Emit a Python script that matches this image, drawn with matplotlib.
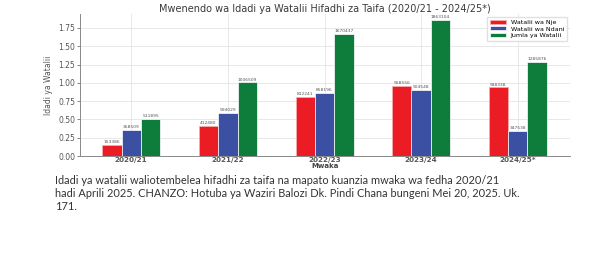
import numpy as np
import matplotlib
matplotlib.use('Agg')
import matplotlib.pyplot as plt

# Data
years = ['2020/21', '2021/22', '2022/23', '2023/24', '2024/25*']
foreign = [153386, 412480, 812241, 958556, 938338]
domestic = [358509, 594029, 858196, 904548, 347538]
total = [511895, 1006509, 1670437, 1863104, 1285876]

series = [
    ('Watalii wa Nje', foreign, '#ec1c24'),
    ('Watalii wa Ndani', domestic, '#3b4fa3'),
    ('Jumla ya Watalii', total, '#0e7d3c'),
]

caption = ("Idadi ya watalii waliotembelea hifadhi za taifa na mapato kuanzia mwaka wa fedha 2020/21\n"
           "hadi Aprili 2025. CHANZO: Hotuba ya Waziri Balozi Dk. Pindi Chana bungeni Mei 20, 2025. Uk.\n"
           "171.")

fig = plt.figure(figsize=(6.01, 2.70), dpi=100)
ax = fig.add_axes([80 / 601, 1 - 156 / 270, 490 / 601, 142 / 270])

x = np.arange(len(years))
width = 0.2
grey = '#555555'
for i, (name, vals, col) in enumerate(series):
    v = np.array(vals) / 1e6
    bars = ax.bar(x + (i - 1) * width, v, width, color=col, label=name,
                  edgecolor='#f4b0b0' if i == 0 else 'white', linewidth=0.5, zorder=3)
    for b, raw in zip(bars, vals):
        ax.text(b.get_x() + b.get_width() / 2, b.get_height() + 0.01, str(raw),
                ha='center', va='bottom', fontsize=3.2, color=grey, zorder=4)

ax.set_xticks(x)
ax.set_xticklabels(years, fontsize=5.2, color='#444444', fontweight='semibold')
ax.set_xlim(-0.53, 4.54)
ax.set_ylim(0, 1.94)
ax.set_yticks(np.arange(0, 1.76, 0.25))
ax.set_yticklabels([f'{t:.2f}' for t in np.arange(0, 1.76, 0.25)], fontsize=5.5, color=grey)
ax.tick_params(axis='y', length=2, width=0.5, pad=1.5, colors=grey)
ax.tick_params(axis='x', length=0.5, width=0.5, pad=0.5, colors=grey)
ax.grid(True, color='#e4e4e4', linewidth=0.6, zorder=0)
ax.set_axisbelow(True)
for s in ['top', 'right']:
    ax.spines[s].set_visible(False)
for s in ['left', 'bottom']:
    ax.spines[s].set_color('#888888')
    ax.spines[s].set_linewidth(0.7)

ax.set_xlabel('Mwaka', fontsize=5.0, color='#444444', fontweight='semibold', labelpad=0)
ax.set_ylabel('Idadi ya Watalii', fontsize=5.5, color=grey, labelpad=4)
ax.set_title('Mwenendo wa Idadi ya Watalii Hifadhi za Taifa (2020/21 - 2024/25*)',
             fontsize=7.0, color='#3a3a3a', pad=1.5)
ax.legend(loc='upper right', fontsize=4.6, frameon=True, framealpha=0.9,
          edgecolor='#dddddd', handlelength=2.5, handleheight=0.6,
          borderpad=0.4, labelspacing=0.2, fancybox=False)

fig.text(55 / 601, 1 - 175 / 270, caption, ha='left', va='top', fontsize=7.9,
         color='#333333', family='Lato', linespacing=1.2)

fig.savefig('out.png', dpi=100)
